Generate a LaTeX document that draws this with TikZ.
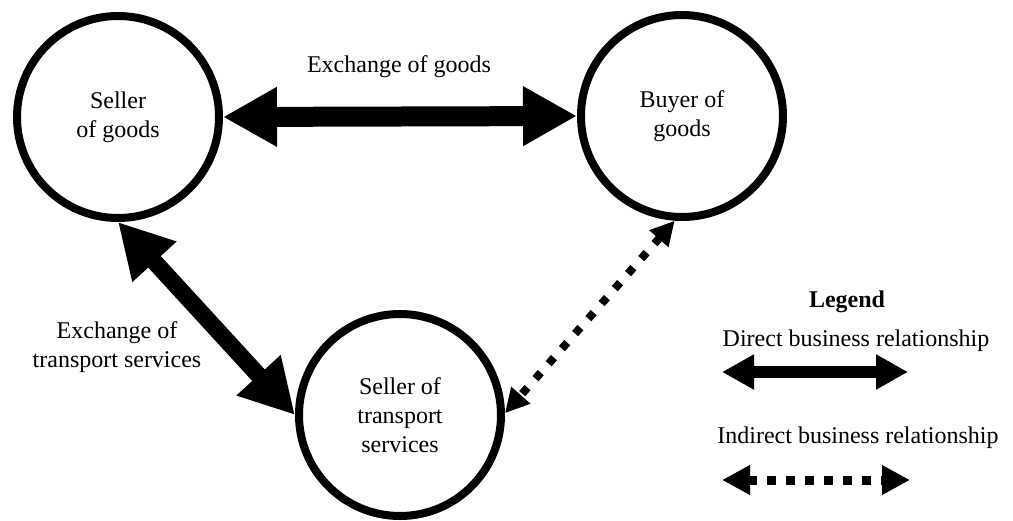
\documentclass[tikz,border=0pt]{standalone}
\usepackage{fontspec}
\setmainfont{Liberation Serif}
\usetikzlibrary{arrows.meta}
\begin{document}
\begin{tikzpicture}[x=1pt,y=-1pt,
  font=\fontsize{24}{29}\selectfont,
  party/.style={circle,draw,line width=8pt,minimum size=202pt,inner sep=0pt,align=center},
  bigarrow/.style={line width=20pt,{Triangle[length=54pt,width=56pt]}-{Triangle[length=54pt,width=56pt]}},
  diagarrow/.style={line width=17pt,{Triangle[length=54pt,width=56pt]}-{Triangle[length=54pt,width=56pt]}},
  dotarrow/.style={line width=8pt,dash pattern=on 8pt off 12pt,{Triangle[length=24pt,width=24pt]}-{Triangle[length=24pt,width=24pt]}},
  legdirect/.style={line width=12pt,{Triangle[length=32pt,width=33pt]}-{Triangle[length=32pt,width=33pt]}},
  legdot/.style={line width=9pt,dash pattern=on 9pt off 10pt,{Triangle[length=28pt,width=28pt]}-{Triangle[length=28pt,width=28pt]}},
  lbl/.style={align=center,inner sep=0pt}]
\useasboundingbox (0,0) rectangle (1013,520);

\node[party] (sg) at (118,117) {Seller\\of goods};
\node[party] (bg) at (682,116) {Buyer of\\goods};
\node[party] (st) at (400,415) {Seller of\\transport\\services};

\draw[bigarrow] (sg.east) -- (bg.west);
\draw[diagarrow] (sg.south) -- (st.west);
\draw[dotarrow] (bg.266) -- (st.1);

\node[lbl] (lg) at (399,67) {Exchange of goods};
\node[lbl] (lt) at (117,347) {Exchange of\\transport services};

\node[lbl,font=\fontsize{24}{29}\selectfont\bfseries] (leg) at (847,302) {Legend};
\node[lbl] (ld) at (856,341) {Direct business relationship};
\node[lbl] (li) at (858,438) {Indirect business relationship};

\coordinate (d1) at (722,372);
\coordinate (d2) at (908,372);
\coordinate (i1) at (722,480);
\coordinate (i2) at (910,480);
\draw[legdirect] (d1) -- (d2);
\draw[legdot] (i1) -- (i2);
\end{tikzpicture}
\end{document}
